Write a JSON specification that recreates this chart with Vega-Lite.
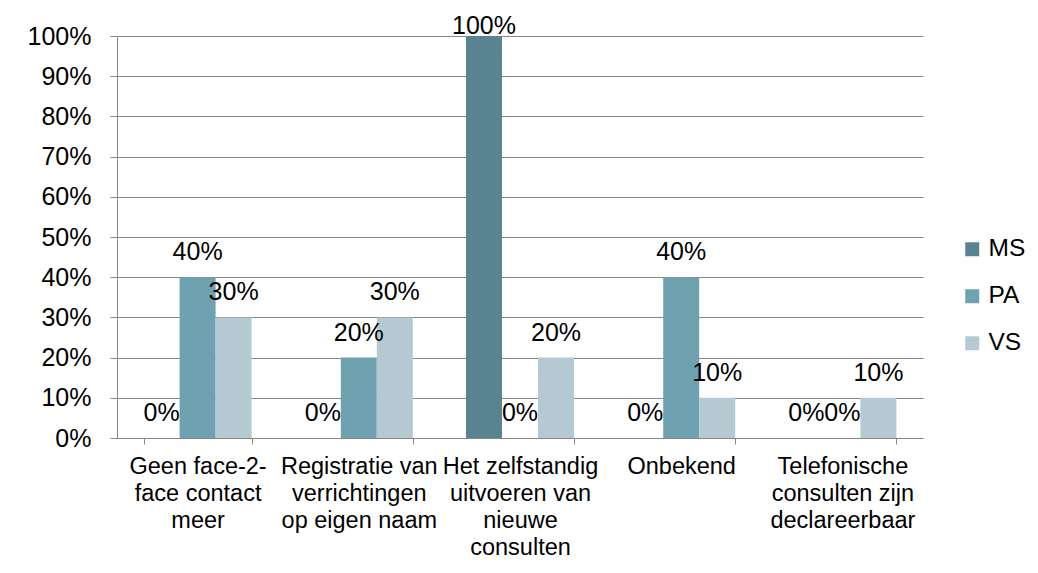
{
  "$schema": "https://vega.github.io/schema/vega-lite/v6.json",
  "width": 806,
  "height": 402,
  "autosize": "none",
  "padding": {"left": 117, "top": 36, "right": 115, "bottom": 135},
  "background": "white",
  "config": {"font": "Liberation Sans", "view": {"stroke": null}},
  "data": {
    "values": [
      {"cat": "Geen face-2-|face contact|meer", "series": "MS", "value": 0},
      {"cat": "Geen face-2-|face contact|meer", "series": "PA", "value": 0.4},
      {"cat": "Geen face-2-|face contact|meer", "series": "VS", "value": 0.3},
      {"cat": "Registratie van|verrichtingen|op eigen naam", "series": "MS", "value": 0},
      {"cat": "Registratie van|verrichtingen|op eigen naam", "series": "PA", "value": 0.2},
      {"cat": "Registratie van|verrichtingen|op eigen naam", "series": "VS", "value": 0.3},
      {"cat": "Het zelfstandig|uitvoeren van|nieuwe|consulten", "series": "MS", "value": 1},
      {"cat": "Het zelfstandig|uitvoeren van|nieuwe|consulten", "series": "PA", "value": 0},
      {"cat": "Het zelfstandig|uitvoeren van|nieuwe|consulten", "series": "VS", "value": 0.2},
      {"cat": "Onbekend", "series": "MS", "value": 0},
      {"cat": "Onbekend", "series": "PA", "value": 0.4},
      {"cat": "Onbekend", "series": "VS", "value": 0.1},
      {"cat": "Telefonische|consulten zijn|declareerbaar", "series": "MS", "value": 0},
      {"cat": "Telefonische|consulten zijn|declareerbaar", "series": "PA", "value": 0},
      {"cat": "Telefonische|consulten zijn|declareerbaar", "series": "VS", "value": 0.1}
    ]
  },
  "encoding": {
    "x": {
      "field": "cat",
      "type": "nominal",
      "sort": null,
      "scale": {"paddingInner": 0.33, "paddingOuter": 0.165},
      "axis": {
        "title": null,
        "labelExpr": "split(datum.label, '|')",
        "labelAngle": 0,
        "labelFontSize": 23.5,
        "labelColor": "#000000",
        "labelLineHeight": 27,
        "labelLimit": 300,
        "labelOverlap": false,
        "labelPadding": 10,
        "tickBand": "extent",
        "tickSize": 6,
        "tickColor": "#868686",
        "domainColor": "#868686",
        "grid": false
      }
    },
    "xOffset": {
      "field": "series",
      "type": "nominal",
      "sort": ["MS", "PA", "VS"],
      "scale": {"paddingInner": 0, "paddingOuter": 0}
    },
    "y": {
      "field": "value",
      "type": "quantitative",
      "scale": {"domain": [0, 1]},
      "axis": {
        "title": null,
        "values": [0, 0.1, 0.2, 0.3, 0.4, 0.5, 0.6, 0.7, 0.8, 0.9, 1],
        "format": ".0%",
        "labelFontSize": 25,
        "labelColor": "#000000",
        "labelPadding": 19,
        "tickSize": 7,
        "tickColor": "#868686",
        "domainColor": "#868686",
        "grid": true,
        "gridColor": "#868686"
      }
    }
  },
  "layer": [
    {
      "mark": {"type": "bar"},
      "encoding": {
        "color": {
          "field": "series",
          "type": "nominal",
          "sort": ["MS", "PA", "VS"],
          "scale": {"domain": ["MS", "PA", "VS"], "range": ["#5a8391", "#6ea2b1", "#b4c9d2"]},
          "legend": {
            "title": null,
            "orient": "none",
            "legendX": 843,
            "legendY": 201,
            "symbolType": "square",
            "symbolSize": 196,
            "symbolStrokeWidth": 0,
            "labelFontSize": 24.5,
            "labelColor": "#000000",
            "rowPadding": 22,
            "padding": 0
          }
        }
      }
    },
    {
      "transform": [{"filter": "datum.value < 1"}],
      "mark": {"type": "text", "baseline": "alphabetic", "dy": -17, "fontSize": 25, "color": "#000000"},
      "encoding": {"text": {"field": "value", "type": "quantitative", "format": ".0%"}}
    },
    {
      "transform": [{"filter": "datum.value >= 1"}],
      "mark": {"type": "text", "baseline": "alphabetic", "dy": -2, "fontSize": 25, "color": "#000000"},
      "encoding": {"text": {"field": "value", "type": "quantitative", "format": ".0%"}}
    }
  ]
}
